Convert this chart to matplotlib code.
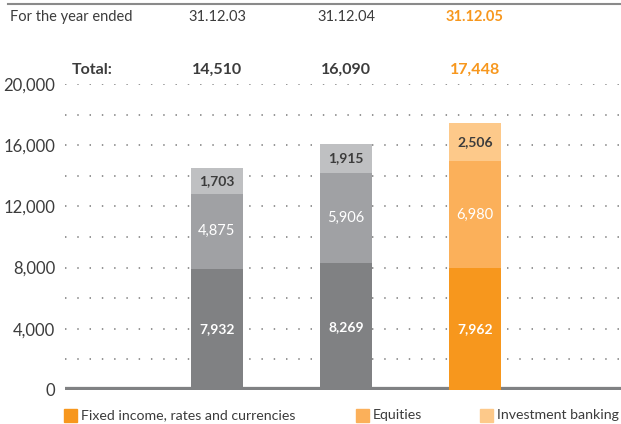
import matplotlib
matplotlib.use("Agg")
import matplotlib.pyplot as plt
from matplotlib.patches import Rectangle

years = ["31.12.03", "31.12.04", "31.12.05"]
totals = ["14,510", "16,090", "17,448"]
fixed_income = [7932, 8269, 7962]
equities = [4875, 5906, 6980]
investment_banking = [1703, 1915, 2506]
legend_labels = ["Fixed income, rates and currencies", "Equities", "Investment banking"]

grey_cols = ["#808183", "#a0a1a4", "#bfc0c2"]
orange_cols = ["#f7971d", "#fbb05a", "#fdc98a"]
text_grey = "#3c3c3c"

plt.rcParams["font.family"] = ["Lato", "DejaVu Sans"]

fig = plt.figure(figsize=(6.21, 4.24), dpi=100)
W, H = 621, 424
ax = fig.add_axes([65 / W, 34 / H, 1 - 65 / W, (390 - 84) / H])

x = [1, 2, 3]
width = 0.40
for i in range(3):
    cols = orange_cols if i == 2 else grey_cols
    ax.bar(x[i], fixed_income[i], width, color=cols[0], zorder=3)
    ax.bar(x[i], equities[i], width, bottom=fixed_income[i], color=cols[1], zorder=3)
    ax.bar(x[i], investment_banking[i], width,
           bottom=fixed_income[i] + equities[i], color=cols[2], zorder=3)
    ax.text(x[i], fixed_income[i] / 2, f"{fixed_income[i]:,}", ha="center", va="center",
            color="white", fontsize=10, fontweight="bold", zorder=4)
    ax.text(x[i], fixed_income[i] + equities[i] / 2, f"{equities[i]:,}", ha="center",
            va="center", color="white", fontsize=10.5, zorder=4)
    ax.text(x[i], fixed_income[i] + equities[i] + investment_banking[i] / 2,
            f"{investment_banking[i]:,}", ha="center", va="center", color=text_grey,
            fontsize=10, fontweight="bold", zorder=4)

ax.set_xlim(1 - 152 / 129, 1 + 404 / 129)
ax.set_ylim(0, 20000)
for y in range(2000, 20001, 2000):
    ax.axhline(y, color="#8c8c8c", lw=1.3, ls=(0, (0.8, 6.0)), zorder=1)
ax.axhline(0, color="#808183", lw=4.5, zorder=2)

ax.set_yticks(range(0, 20001, 4000))
ax.set_yticklabels([f"{v:,}" for v in range(0, 20001, 4000)], fontsize=12, color=text_grey)
ax.tick_params(axis="y", length=0, pad=7)
ax.set_xticks([])
for s in ax.spines.values():
    s.set_visible(False)

# header rows
fig.add_artist(plt.Line2D([8 / W, 1], [1 - 4 / H, 1 - 4 / H], color="#8a8a8a", lw=1.5))
fig.text(10 / W, 1 - 17 / H, "For the year ended", fontsize=10.5, color=text_grey, va="center")
fig.text(72 / W, 1 - 70 / H, "Total:", fontsize=11.5, color=text_grey, va="center",
         fontweight="bold")
for i in range(3):
    xf = ax.transData.transform((x[i], 0))[0] / W
    col = orange_cols[0] if i == 2 else text_grey
    fig.text(xf, 1 - 17 / H, years[i], fontsize=10.5, color=col, ha="center", va="center",
             fontweight="bold" if i == 2 else "normal")
    fig.text(xf, 1 - 70 / H, totals[i], fontsize=11.5, color=col, ha="center", va="center",
             fontweight="bold")

# legend
for lx, lab, col in zip([64, 356, 480], legend_labels, orange_cols):
    fig.add_artist(Rectangle((lx / W, 1 - 422 / H), 13 / W, 13 / H, color=col,
                             transform=fig.transFigure))
    fig.text((lx + 17) / W, 1 - 415 / H, lab, fontsize=10.2, color=text_grey, va="center")

fig.savefig("out.png", dpi=100)
